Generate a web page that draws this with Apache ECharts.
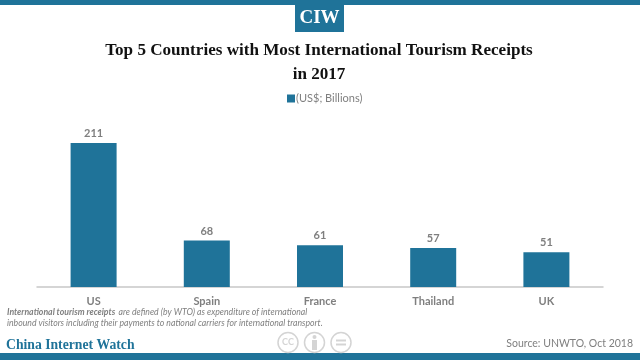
<!DOCTYPE html>
<html><head><meta charset="utf-8">
<style>html,body{margin:0;padding:0;background:#fff}#c{width:640px;height:360px}</style>
<script src="https://cdn.jsdelivr.net/npm/echarts@6/dist/echarts.min.js"></script>
</head><body><div id="c"></div>
<script>
const categories = ['US','Spain','France','Thailand','UK'];
const receipts = [211,68,61,57,51];
const seriesName = '(US$; Billions)';
const chartTitle = 'Top 5 Countries with Most International Tourism Receipts\nin 2017';
const BLUE = '#1f7399', GREY = '#7f7f7f';
const chart = echarts.init(document.getElementById('c'), null, {renderer:'canvas'});
const circle = (cx) => ({type:'circle', shape:{cx:cx, cy:342.5, r:10}, style:{fill:'#fff', stroke:'#d4d4d4', lineWidth:1.5}, silent:true});
chart.setOption({
  animation:false,
  backgroundColor:'#fff',
  title:{text:chartTitle, left:314, top:34, textAlign:'center',
    textStyle:{fontFamily:'Liberation Serif', fontWeight:'bold', fontSize:17.1, lineHeight:23.5, color:'#111'}},
  legend:{top:88, left:282, itemWidth:8, itemHeight:8, itemGap:4, icon:'rect',
    textStyle:{fontFamily:'Lato', fontSize:11, color:GREY, padding:[0,0,0,-4]}},
  grid:{left:37, right:37, top:116.4, bottom:73},
  xAxis:{type:'category', data:categories,
    axisLine:{lineStyle:{color:'#c8c8c8', width:1.5}}, axisTick:{show:false},
    axisLabel:{margin:9, fontFamily:'Lato', fontWeight:'bold', fontSize:11, color:GREY}},
  yAxis:{type:'value', min:0, max:250, interval:50, show:false, splitLine:{show:false}},
  series:[{name:seriesName, type:'bar', data:receipts, barWidth:46,
    itemStyle:{color:BLUE},
    label:{show:true, position:'top', distance:4, fontFamily:'Lato', fontWeight:'bold', fontSize:11, color:GREY}}],
  graphic:[
    {type:'rect', shape:{x:0,y:0,width:640,height:5}, style:{fill:BLUE}, silent:true},
    {type:'rect', shape:{x:0,y:353,width:640,height:7}, style:{fill:BLUE}, silent:true},
    {type:'rect', shape:{x:295,y:5,width:49,height:27}, style:{fill:BLUE}, silent:true},
    {type:'text', x:319.5, y:18.5, style:{text:'CIW', fill:'#fff', align:'center', verticalAlign:'middle', font:'bold 19px "Liberation Serif"'}, silent:true},
    {type:'text', x:7, y:312, style:{rich:{b:{font:'italic bold 8.7px Lato', fill:GREY}, n:{font:'italic 8.7px Lato', fill:GREY}}, text:'{b|International tourism receipts} {n|are defined (by WTO) as expenditure of international}', verticalAlign:'middle'}, silent:true},
    {type:'text', x:7, y:323, style:{text:'inbound visitors including their payments to national carriers for international transport.', font:'italic 8.7px Lato', fill:GREY, verticalAlign:'middle'}, silent:true},
    {type:'text', x:6, y:345, style:{text:'China Internet Watch', font:'bold 13.7px "Liberation Serif"', fill:BLUE, verticalAlign:'middle'}, silent:true},
    {type:'text', x:633, y:344, style:{text:'Source: UNWTO, Oct 2018', font:'10.5px Lato', fill:GREY, align:'right', verticalAlign:'middle'}, silent:true},
    circle(288), circle(314.5), circle(341),
    {type:'text', x:288, y:342.5, style:{text:'CC', font:'bold 9px Lato', fill:'#d4d4d4', align:'center', verticalAlign:'middle'}, silent:true},
    {type:'circle', shape:{cx:314.5, cy:337, r:2}, style:{fill:'#d4d4d4'}, silent:true},
    {type:'rect', shape:{x:312,y:340,width:5,height:10}, style:{fill:'#d4d4d4'}, silent:true},
    {type:'rect', shape:{x:336,y:339.5,width:10,height:2}, style:{fill:'#d4d4d4'}, silent:true},
    {type:'rect', shape:{x:336,y:343.5,width:10,height:2}, style:{fill:'#d4d4d4'}, silent:true}
  ]
});
</script></body></html>
